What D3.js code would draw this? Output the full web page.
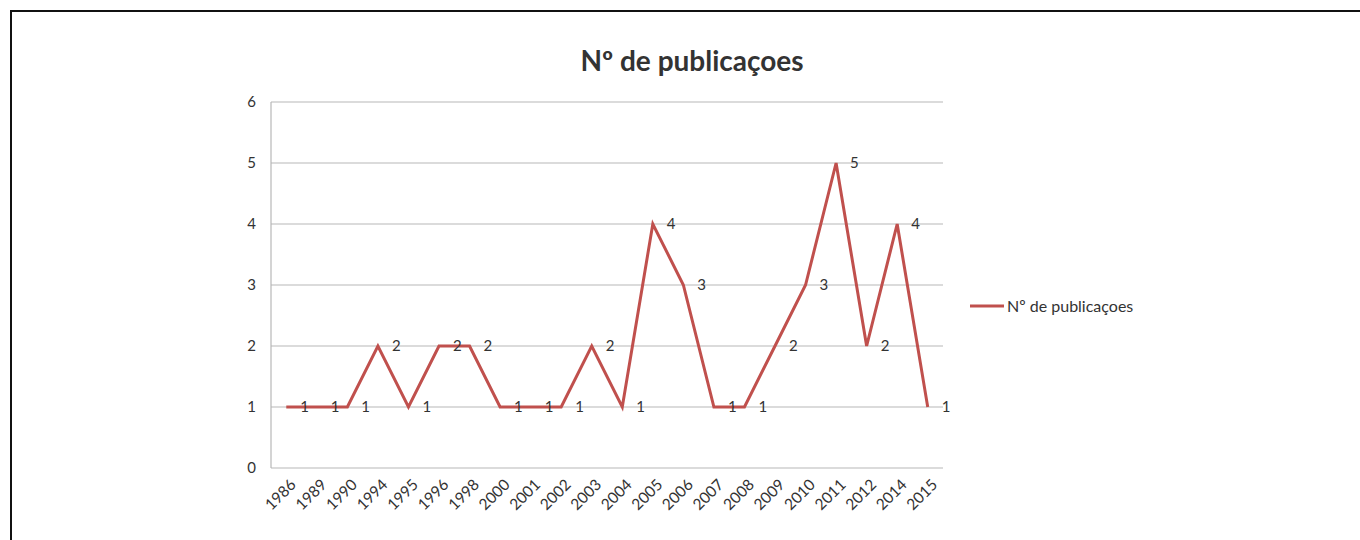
<!DOCTYPE html>
<html>
<head>
<meta charset="utf-8">
<script src="https://cdn.jsdelivr.net/npm/d3@7"></script>
<style>
  body { margin: 0; background: #fff; }
  svg text { font-family: Lato, "Open Sans", sans-serif; fill: #333; }
</style>
</head>
<body>
<div id="chart"></div>
<script>
// Publications per year
const years = ["1986", "1989", "1990", "1994", "1995", "1996", "1998", "2000", "2001", "2002", "2003",
               "2004", "2005", "2006", "2007", "2008", "2009", "2010", "2011", "2012", "2014", "2015"];
const publications = [1, 1, 1, 2, 1, 2, 2, 1, 1, 1, 2, 1, 4, 3, 1, 1, 2, 3, 5, 2, 4, 1];
const yTicks = [0, 1, 2, 3, 4, 5, 6];
const seriesName = "Nº de publicaçoes";

const data = years.map((y, i) => ({year: y, value: publications[i]}));

const width = 1360;
const height = 540;
const margin = {top: 102, left: 271, right: 417, bottom: 72};
const innerW = width - margin.left - margin.right;
const innerH = height - margin.top - margin.bottom;
const lineColor = "#c0504d";

const svg = d3.select("#chart")
    .append("svg")
    .attr("width", width)
    .attr("height", height);

// outer frame
svg.append("rect")
    .attr("x", 11).attr("y", 11)
    .attr("width", width).attr("height", height)
    .attr("fill", "none")
    .attr("stroke", "#111")
    .attr("stroke-width", 2);

const g = svg.append("g")
    .attr("transform", `translate(${margin.left},${margin.top})`);

const x = d3.scaleBand()
    .domain(years)
    .range([0, innerW]);

const y = d3.scaleLinear()
    .domain([0, 6])
    .range([innerH, 0]);

// gridlines
g.selectAll("line.grid")
    .data(yTicks)
    .enter()
    .append("line")
    .attr("class", "grid")
    .attr("x1", 0).attr("x2", innerW)
    .attr("y1", d => y(d)).attr("y2", d => y(d))
    .attr("stroke", "#b8b8b8")
    .attr("stroke-width", 1.2);

// y axis line
g.append("line")
    .attr("x1", 0).attr("x2", 0)
    .attr("y1", 0).attr("y2", innerH)
    .attr("stroke", "#b8b8b8")
    .attr("stroke-width", 1.2);

// y axis labels
const yAxis = g.append("g")
    .call(d3.axisLeft(y).tickValues(yTicks).tickFormat(d3.format("d")).tickSize(0).tickPadding(15));
yAxis.select(".domain").remove();
yAxis.selectAll("text")
    .style("font-size", "15px")
    .attr("fill", "#333");

// x axis labels, rotated
const xAxis = g.append("g")
    .attr("transform", `translate(0,${innerH})`)
    .call(d3.axisBottom(x).tickSize(0).tickPadding(0));
xAxis.select(".domain").remove();
xAxis.selectAll("text")
    .style("font-size", "15.5px")
    .attr("fill", "#333")
    .attr("text-anchor", "end")
    .attr("transform", "translate(3,10) rotate(-45)")
    .attr("dy", "0.7em");

// the series line
const line = d3.line()
    .x(d => x(d.year) + x.bandwidth() / 2)
    .y(d => y(d.value));

g.append("path")
    .datum(data)
    .attr("fill", "none")
    .attr("stroke", lineColor)
    .attr("stroke-width", 3)
    .attr("stroke-linejoin", "miter")
    .attr("d", line);

// value labels right of each point
g.selectAll("text.val")
    .data(data)
    .enter()
    .append("text")
    .attr("class", "val")
    .attr("x", d => x(d.year) + x.bandwidth() / 2 + 14)
    .attr("y", d => y(d.value))
    .attr("dy", "0.36em")
    .style("font-size", "15px")
    .text(d => d.value);

// title
svg.append("text")
    .attr("x", 692)
    .attr("y", 71)
    .attr("text-anchor", "middle")
    .style("font-size", "28px")
    .style("font-weight", "bold")
    .attr("fill", "#111")
    .text(seriesName);

// legend
const legend = svg.append("g")
    .attr("transform", "translate(970,306)");
legend.append("line")
    .attr("x1", 0).attr("x2", 34)
    .attr("y1", 0).attr("y2", 0)
    .attr("stroke", lineColor)
    .attr("stroke-width", 3);
legend.append("text")
    .attr("x", 37)
    .attr("y", 0)
    .attr("dy", "0.35em")
    .style("font-size", "16px")
    .text(seriesName);
</script>
</body>
</html>
